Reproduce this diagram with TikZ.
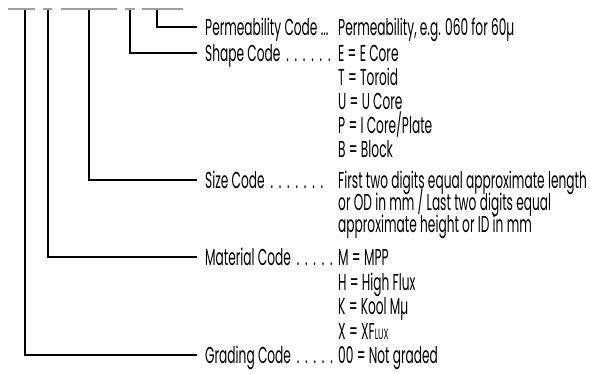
\documentclass[tikz,border=0pt]{standalone}
\usepackage{fontspec}
\setmainfont{Poppins}[FakeStretch=0.53]
\usetikzlibrary{positioning}
\tikzset{x=1pt, y=-1pt, % Pixel-like units, y grows downwards
    every node/.style={ % Sets the properties for each text
    inner sep=0pt,
    font=\fontsize{23}{26}\selectfont}}
\newcommand{\dotrun}[1]{\foreach \i in {1,...,#1}{\hspace{5.8pt}.}} % spaced leader dots

\begin{document}
\begin{tikzpicture}[
            codebar/.style={draw=gray!75, line width=2pt},
            leader/.style={draw, line width=1.1pt},
            codename/.style={anchor=west, text height=16pt, text depth=0pt},
            codeval/.style={anchor=west, text height=16pt, text depth=0pt}
        ]
        \useasboundingbox (0,0) rectangle (590,373);

        % Underlined code groups at the top
        \draw[codebar] (8,9) -- (35,9);
        \draw[codebar] (43,9) -- (52,9);
        \draw[codebar] (61,9) -- (117,9);
        \draw[codebar] (125,9) -- (135,9);
        \draw[codebar] (142,9) -- (183,9);

        \coordinate (grade) at (25,10);
        \coordinate (material) at (48,10);
        \coordinate (size) at (89,10);
        \coordinate (shape) at (130,10);
        \coordinate (perm) at (157,10);

        % Field names
        \node[codename] (permname) at (205,27) {Permeability Code ...};
        \node[codename] (shapename) at (205,53) {Shape Code\dotrun{6}};
        \node[codename] (sizename) at (205,180) {Size Code\dotrun{7}};
        \node[codename] (matname) at (205,257) {Material Code\dotrun{5}};
        \node[codename] (gradename) at (205,355) {Grading Code\dotrun{5}};

        % Field values
        \node[codeval] (permval) at (338,27) {Permeability, e.g. 060 for 60µ};
        \node[codeval] (shapee) at (338,53) {E = E Core};
        \node[codeval] (shapet) at (338,77) {T = Toroid};
        \node[codeval] (shapeu) at (338,101) {U = U Core};
        \node[codeval] (shapep) at (338,125) {P = I Core/Plate};
        \node[codeval] (shapeb) at (338,149) {B = Block};
        \node[codeval] (sizea) at (338,180) {First two digits equal approximate length};
        \node[codeval] (sizeb) at (338,202) {or OD in mm / Last two digits equal};
        \node[codeval] (sizec) at (338,224) {approximate height or ID in mm};
        \node[codeval] (matm) at (338,257) {M = MPP};
        \node[codeval] (math) at (338,282) {H = High Flux};
        \node[codeval] (matk) at (338,306) {K = Kool Mµ};
        \node[codeval] (matx) at (338,331) {X = XF{\fontsize{15}{15}\selectfont LUX}};
        \node[codeval] (gradeo) at (338,355) {00 = Not graded};

        % Leaders from each code group to its name
        \draw[leader] (perm) |- ([xshift=-8pt]permname.west);
        \draw[leader] (shape) |- ([xshift=-8pt]shapename.west);
        \draw[leader] (size) |- ([xshift=-8pt]sizename.west);
        \draw[leader] (material) |- ([xshift=-8pt]matname.west);
        \draw[leader] (grade) |- ([xshift=-8pt]gradename.west);

    \end{tikzpicture}
\end{document}
